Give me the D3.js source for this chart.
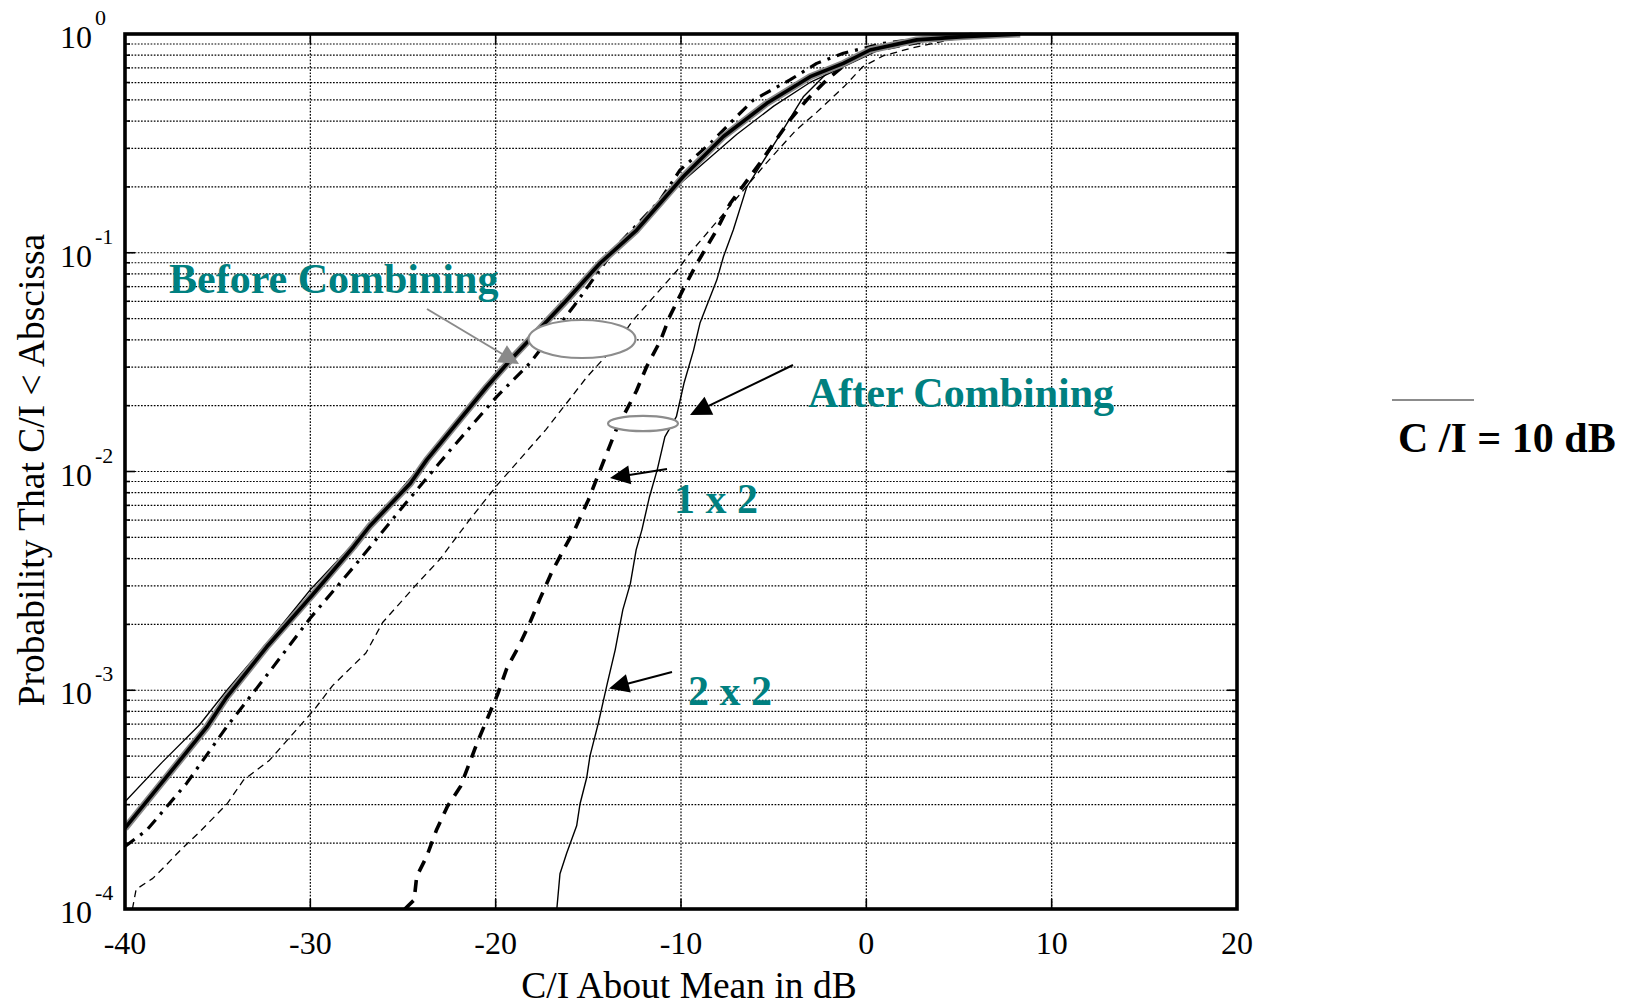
<!DOCTYPE html>
<html><head><meta charset="utf-8">
<script src="https://cdn.jsdelivr.net/npm/d3@7"></script>
<style>body{margin:0;background:#fff}svg{display:block}</style>
</head><body>
<svg id="chart" width="1629" height="1006"></svg>
<script>
// ---- data (C/I about mean in dB, probability C/I < abscissa) ----
const xTicks = [-40, -30, -20, -10, 0, 10, 20];
const yDecades = [1e-4, 1e-3, 1e-2, 1e-1, 1];
const yTickExp = ["-4", "-3", "-2", "-1", "0"];

// Before combining: thin solid
const beforeThinX = [-40, -38, -36, -34.5, -32, -30, -27, -24, -20, -16, -13, -10, -7, -5, -3, -1, 1, 4, 7];
const beforeThinP = [3.09e-4, 4.68e-4, 6.92e-4, 1.0e-3, 1.78e-3, 2.88e-3, 5.37e-3, 0.0107, 0.0282, 0.0646, 0.117, 0.209, 0.347, 0.468, 0.603, 0.724, 0.871, 0.959, 0.993];

// Before combining: thick (shaded) solid
const beforeThickX = [-40, -35.6, -34.5, -32.35, -29.9, -27.67, -26.8, -24.6, -23.72, -20.48, -19.04, -16.16, -14.37, -12.39, -9.87, -7.71, -5.37, -3.03, -1.24, 0.2, 2.72, 5.24, 8.3];
const beforeThickP = [2.34e-4, 6.76e-4, 9.33e-4, 1.58e-3, 2.72e-3, 4.53e-3, 5.62e-3, 8.83e-3, 0.0113, 0.0244, 0.0335, 0.0608, 0.0895, 0.127, 0.223, 0.340, 0.482, 0.638, 0.734, 0.845, 0.940, 0.973, 1.0];

// Before combining: dash-dot
const beforeDashDotX = [-40, -38.83, -36.67, -34.51, -32.35, -30.0, -27.5, -25.0, -22.46, -19.94, -18.15, -15.81, -13.47, -11.13, -10.05, -8.43, -7.0, -6.1, -4.12, -2.68, -1.24, 0.92, 4, 6];
const beforeDashDotP = [1.93e-4, 2.29e-4, 3.76e-4, 6.81e-4, 1.17e-3, 2.14e-3, 3.80e-3, 6.92e-3, 0.0125, 0.0220, 0.0313, 0.0566, 0.107, 0.174, 0.239, 0.316, 0.419, 0.499, 0.617, 0.734, 0.817, 0.906, 0.977, 1.0];

// Thin dashed
const thinDashedX = [-39.6, -39.4, -38.5, -37.9, -37.0, -36.0, -34.5, -33.6, -32.2, -29.8, -28.8, -27.0, -26.1, -24.1, -23.0, -21.4, -19.9, -17.3, -16.2, -15.1, -13.7, -12.6, -10.2, -9.5, -7.5, -5.4, -3.8, -2.7, -1.2, -0.2, 0.9, 2.4, 4.5, 6.5];
const thinDashedP = [1.0e-4, 1.23e-4, 1.38e-4, 1.55e-4, 1.86e-4, 2.24e-4, 3.02e-4, 3.89e-4, 4.79e-4, 8.13e-4, 1.05e-3, 1.48e-3, 2.04e-3, 3.16e-3, 3.98e-3, 6.03e-3, 8.71e-3, 0.0155, 0.0204, 0.0269, 0.0363, 0.0490, 0.0832, 0.100, 0.158, 0.257, 0.363, 0.437, 0.575, 0.708, 0.794, 0.861, 0.940, 0.982];

// After combining 1 x 2: thick dashed
const oneByTwoX = [-24.9, -24.4, -24.26, -23.72, -23.2, -22.6, -21.9, -21.4, -21.0, -20.4, -19.9, -19.4, -18.7, -18.15, -17.6, -17.0, -16.35, -15.7, -15.0, -14.2, -13.5, -12.4, -11.85, -11.1, -10.6, -9.9, -9.15, -8.1, -7.35, -5.74, -4.12, -3.22, -2.14, -1.06, 0.0, 2.7, 5];
const oneByTwoP = [1.0e-4, 1.10e-4, 1.41e-4, 1.74e-4, 2.29e-4, 2.95e-4, 3.63e-4, 4.68e-4, 5.75e-4, 7.59e-4, 9.55e-4, 1.26e-3, 1.62e-3, 2.04e-3, 2.63e-3, 3.43e-3, 4.37e-3, 5.50e-3, 7.41e-3, 0.0110, 0.0155, 0.0234, 0.0302, 0.0398, 0.0513, 0.0676, 0.0891, 0.126, 0.168, 0.257, 0.405, 0.499, 0.617, 0.734, 0.830, 0.912, 0.977];

// After combining 2 x 2: thin solid
const twoByTwoX = [-16.7, -16.53, -16.17, -15.63, -15.45, -15.09, -14.91, -14.46, -13.97, -13.55, -13.14, -12.73, -12.42, -12.11, -11.70, -11.28, -10.87, -10.25, -9.84, -9.32, -8.97, -8.07, -7.71, -7.18, -6.45, -4.84, -3.40, -1.96, 0.2, 3, 5];
const twoByTwoP = [1.0e-4, 1.45e-4, 1.80e-4, 2.40e-4, 3.02e-4, 3.98e-4, 5.01e-4, 7.08e-4, 1.08e-3, 1.53e-3, 2.33e-3, 3.08e-3, 4.38e-3, 5.41e-3, 7.67e-3, 0.0102, 0.0144, 0.0178, 0.0253, 0.0359, 0.0479, 0.0750, 0.0959, 0.127, 0.200, 0.327, 0.516, 0.684, 0.845, 0.955, 0.993];

// ---- drawing ----
const svg = d3.select("#chart");
const L = 125, R = 1237, T = 34, B = 909;
const x = d3.scaleLinear().domain([-40, 20]).range([L, R]);
const y = d3.scaleLog().domain([1e-4, 1]).range([B, T]);
const serif = "'Liberation Serif','Times New Roman',Times,serif";
const teal = "#008080";

svg.append("rect").attr("width", 1629).attr("height", 1006).attr("fill", "#fff");

// grid values
const minorVals = [];
for (let e = -4; e < 0; e++) for (let k = 1; k <= 9; k++) minorVals.push(k * Math.pow(10, e));
minorVals.push(1);

const grid = svg.append("g").attr("stroke", "#000").attr("stroke-width", 1.2).attr("stroke-dasharray", "1.7,1.5");
grid.selectAll("line.h").data(minorVals).join("line").attr("class", "h")
  .attr("x1", L).attr("x2", R).attr("y1", d => y(d)).attr("y2", d => y(d));
grid.selectAll("line.v").data(xTicks).join("line").attr("class", "v")
  .attr("y1", T).attr("y2", B).attr("x1", d => x(d)).attr("x2", d => x(d));

// clip
svg.append("defs").append("clipPath").attr("id", "plotclip")
  .append("rect").attr("x", L).attr("y", T - 2).attr("width", R - L).attr("height", B - T + 2);
const plot = svg.append("g").attr("clip-path", "url(#plotclip)");

const line = d3.line().x(d => x(d[0])).y(d => y(d[1]));
const zip = (a, b) => a.map((v, i) => [v, b[i]]);

function curve(xs, ps, style) {
  plot.append("path").datum(zip(xs, ps)).attr("d", line).attr("fill", "none")
    .attr("stroke", style.color || "#000").attr("stroke-width", style.w)
    .attr("stroke-dasharray", style.dash || null)
    .attr("stroke-linejoin", "round").attr("stroke-linecap", style.cap || "butt");
}
curve(thinDashedX, thinDashedP, {w: 1.3, dash: "7,5"});
curve(twoByTwoX, twoByTwoP, {w: 1.4});
curve(oneByTwoX, oneByTwoP, {w: 3.6, dash: "12,9"});
curve(beforeDashDotX, beforeDashDotP, {w: 3.2, dash: "12,7,3,7"});
curve(beforeThinX, beforeThinP, {w: 1.3});
curve(beforeThickX, beforeThickP, {w: 7, color: "#8a8a8a"});
curve(beforeThickX, beforeThickP, {w: 3.6});

// ellipses
svg.append("ellipse").attr("cx", 582).attr("cy", 339).attr("rx", 53.5).attr("ry", 19)
  .attr("fill", "#fff").attr("stroke", "#8c8c8c").attr("stroke-width", 2.2);
svg.append("ellipse").attr("cx", 643).attr("cy", 423.5).attr("rx", 35).attr("ry", 7.7)
  .attr("fill", "#fff").attr("stroke", "#8c8c8c").attr("stroke-width", 2.2);

// arrows
function arrow(x1, y1, x2, y2, color, len, hw) {
  const dx = x2 - x1, dy = y2 - y1, d = Math.hypot(dx, dy);
  const ux = dx / d, uy = dy / d, px = -uy, py = ux;
  const bx = x2 - ux * len, by = y2 - uy * len;
  svg.append("line").attr("x1", x1).attr("y1", y1).attr("x2", bx + ux * 2).attr("y2", by + uy * 2)
    .attr("stroke", color).attr("stroke-width", 2);
  svg.append("polygon").attr("points",
    [[x2, y2], [bx + px * hw, by + py * hw], [bx - px * hw, by - py * hw]].map(p => p.join(",")).join(" "))
    .attr("fill", color);
}
arrow(427, 309, 519, 364, "#8a8a8a", 20, 10);
arrow(793, 365, 690, 415, "#000", 21, 10);
arrow(667, 469, 610, 478, "#000", 20, 9.5);
arrow(672, 672, 609, 688.5, "#000", 20, 9.5);

// frame
svg.append("rect").attr("x", L).attr("y", T).attr("width", R - L).attr("height", B - T)
  .attr("fill", "none").attr("stroke", "#000").attr("stroke-width", 3.6);

// ticks
const ticks = svg.append("g").attr("stroke", "#000").attr("stroke-width", 1.6);
xTicks.forEach(v => {
  ticks.append("line").attr("x1", x(v)).attr("x2", x(v)).attr("y1", B).attr("y2", B - 10);
  ticks.append("line").attr("x1", x(v)).attr("x2", x(v)).attr("y1", T).attr("y2", T + 10);
});
minorVals.forEach(v => {
  const major = yDecades.includes(v);
  const len = major ? 10 : 5;
  ticks.append("line").attr("x1", L).attr("x2", L + len).attr("y1", y(v)).attr("y2", y(v));
  ticks.append("line").attr("x1", R).attr("x2", R - len).attr("y1", y(v)).attr("y2", y(v));
});

// tick labels
svg.append("g").selectAll("text").data(xTicks).join("text")
  .attr("x", d => x(d)).attr("y", B + 45).attr("text-anchor", "middle")
  .attr("font-family", serif).attr("font-size", 32).attr("fill", "#000").text(d => d);
const yl = svg.append("g").attr("font-family", serif).attr("fill", "#000");
yDecades.forEach((v, i) => {
  yl.append("text").attr("x", 92).attr("y", y(v) + 14).attr("text-anchor", "end")
    .attr("font-size", 32).text("10");
  yl.append("text").attr("x", 95).attr("y", y(v) - 9).attr("font-size", 22).text(yTickExp[i]);
});

// axis titles
svg.append("text").attr("x", 689).attr("y", 998).attr("text-anchor", "middle")
  .attr("font-family", serif).attr("font-size", 37.5).attr("fill", "#000").text("C/I About Mean in dB");
svg.append("text").attr("transform", "translate(44,470) rotate(-90)").attr("text-anchor", "middle")
  .attr("font-family", serif).attr("font-size", 37.5).attr("fill", "#000").text("Probability That C/I < Abscissa");

// annotations
const ann = svg.append("g").attr("font-family", serif).attr("font-weight", "bold").attr("font-size", 42);
ann.append("text").attr("x", 169).attr("y", 293).attr("fill", teal).text("Before Combining");
ann.append("text").attr("x", 808).attr("y", 407).attr("fill", teal).text("After Combining");
ann.append("text").attr("x", 674).attr("y", 513).attr("fill", teal).text("1 x 2");
ann.append("text").attr("x", 688).attr("y", 705).attr("fill", teal).text("2 x 2");
ann.append("text").attr("x", 1398).attr("y", 452).attr("fill", "#000").text("C /I = 10 dB");
svg.append("line").attr("x1", 1392).attr("x2", 1474).attr("y1", 400).attr("y2", 400)
  .attr("stroke", "#8c8c8c").attr("stroke-width", 2);
</script>
</body></html>
